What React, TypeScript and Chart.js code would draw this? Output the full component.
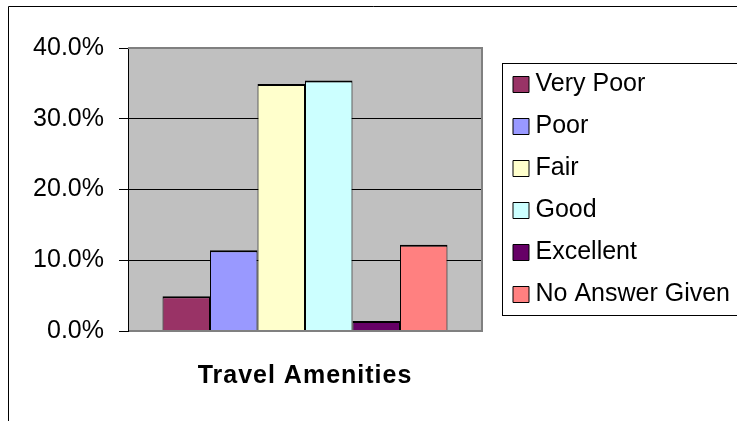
import React, { useEffect, useRef } from 'react';
import { Chart, registerables } from 'chart.js';

Chart.register(...registerables);

const categories = ['Travel Amenities'];
const seriesNames = ['Very Poor', 'Poor', 'Fair', 'Good', 'Excellent', 'No Answer Given'];
const veryPoor = [4.9];
const poor = [11.4];
const fair = [34.9];
const good = [35.4];
const excellent = [1.4];
const noAnswer = [12.2];
const seriesValues = [veryPoor, poor, fair, good, excellent, noAnswer];
const seriesColors = ['#993366', '#9999FF', '#FFFFCC', '#CCFFFF', '#660066', '#FF8080'];
const yTicks = [0, 10, 20, 30, 40];

const FONT = '"Liberation Sans", Arial, sans-serif';

const decor = {
  id: 'decor',
  beforeDraw(chart: any) {
    const { ctx, chartArea: a, width, height } = chart;
    ctx.save();
    ctx.fillStyle = '#ffffff';
    ctx.fillRect(0, 0, width, height);
    ctx.strokeStyle = '#000000';
    ctx.lineWidth = 1;
    ctx.beginPath();
    ctx.moveTo(8.5, height + 2);
    ctx.lineTo(8.5, 6.5);
    ctx.lineTo(width + 2, 6.5);
    ctx.stroke();
    ctx.fillStyle = '#C0C0C0';
    ctx.fillRect(a.left, a.top, a.right - a.left, a.bottom - a.top);
    ctx.restore();
  },
  afterDatasetsDraw(chart: any) {
    const { ctx, chartArea: a } = chart;
    ctx.save();
    ctx.strokeStyle = '#808080';
    ctx.lineWidth = 2;
    ctx.beginPath();
    ctx.moveTo(a.left, a.top);
    ctx.lineTo(a.right, a.top);
    ctx.lineTo(a.right, a.bottom);
    ctx.lineTo(a.left + 1, a.bottom);
    ctx.stroke();
    ctx.restore();
    (ctx as any).letterSpacing = '1px';
  },
  afterDraw(chart: any) {
    const { ctx } = chart;
    (ctx as any).letterSpacing = '0px';
    const lg = chart.legend;
    if (lg && lg.legendHitBoxes && lg.legendHitBoxes.length) {
      const hb = lg.legendHitBoxes;
      const top = Math.round(hb[0].top - 9) + 0.5;
      const bottom = Math.round(hb[hb.length - 1].top + hb[hb.length - 1].height + 8) + 0.5;
      const left = Math.round(lg.left) + 0.5;
      ctx.save();
      ctx.strokeStyle = '#000000';
      ctx.lineWidth = 1;
      ctx.strokeRect(left, top, chart.width + 5 - left, bottom - top);
      ctx.restore();
    }
  },
};

export default function App() {
  const ref = useRef<HTMLCanvasElement>(null);

  useEffect(() => {
    const canvas = ref.current;
    if (!canvas) return;
    const chart = new Chart(canvas, {
      type: 'bar',
      data: {
        labels: categories,
        datasets: seriesNames.map((name, i) => ({
          label: name,
          data: seriesValues[i],
          backgroundColor: seriesColors[i],
          borderColor: '#000000',
          borderWidth: { top: 2, left: 1, right: 1, bottom: 0 },
          categoryPercentage: 0.805,
          barPercentage: 1,
          xAxisID: 'x',
          yAxisID: 'y',
        })),
      },
      options: {
        responsive: false,
        animation: false,
        devicePixelRatio: 1,
        layout: { padding: { top: 48, left: 0, right: 0, bottom: 0 } },
        plugins: {
          tooltip: { enabled: false },
          title: { display: false },
          legend: {
            position: 'right',
            fullSize: false,
            align: 'center',
            maxWidth: 235,
            labels: {
              usePointStyle: true,
              pointStyle: 'rect',
              boxWidth: 4,
              boxHeight: 16,
              padding: 17,
              color: '#000000',
              font: { family: FONT, size: 25 },
            },
          },
        },
        scales: {
          x: {
            type: 'category',
            offset: true,
            grid: { display: false, drawTicks: false },
            border: { display: false },
            ticks: {
              color: '#000000',
              font: { family: FONT, size: 25, weight: 'bold' },
              padding: 30,
              z: 1,
              maxRotation: 0,
              autoSkip: false,
            },
            afterFit(s: any) {
              s.height = 90;
            },
          },
          y: {
            type: 'linear',
            position: 'left',
            min: 0,
            max: 40,
            afterBuildTicks(s: any) {
              s.ticks = yTicks.map((v) => ({ value: v }));
            },
            ticks: {
              color: '#000000',
              font: { family: FONT, size: 25 },
              padding: 15,
              callback: (v: any) => Number(v).toFixed(1) + '%',
            },
            grid: { color: '#000000', lineWidth: 1, tickLength: 9, tickColor: '#000000' },
            border: { display: true, color: '#000000', width: 1 },
            afterFit(s: any) {
              s.width = 128;
            },
          },
          yR: {
            type: 'linear',
            position: 'right',
            display: true,
            grid: { display: false, drawTicks: false },
            ticks: { display: false },
            border: { display: false },
            afterFit(s: any) {
              s.width = 20;
            },
          },
        },
      },
      plugins: [decor],
    } as any);
    return () => chart.destroy();
  }, []);

  return (
    <div style={{ position: 'absolute', left: 0, top: 0, width: 737, height: 421, overflow: 'hidden' }}>
      <canvas ref={ref} width={737} height={421} style={{ display: 'block', width: 737, height: 421 }} />
    </div>
  );
}
